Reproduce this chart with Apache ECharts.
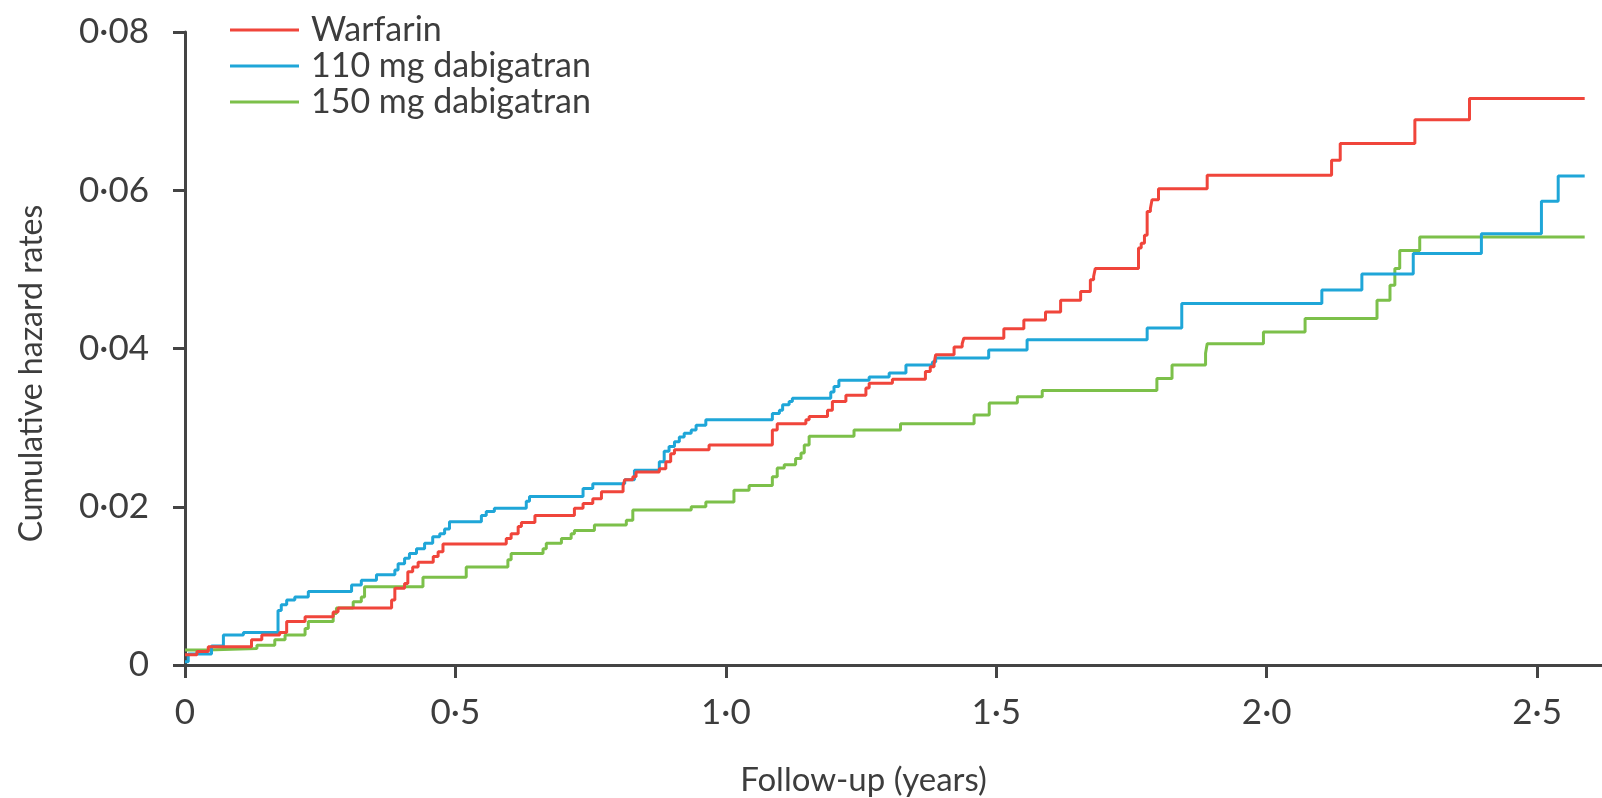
<!DOCTYPE html>
<html>
<head>
<meta charset="utf-8">
<script src="https://cdn.jsdelivr.net/npm/echarts@6/dist/echarts.min.js"></script>
<style>
  html, body { margin: 0; padding: 0; background: #fff; }
  #chart { width: 1602px; height: 798px; }
</style>
</head>
<body>
<div id="chart"></div>
<script>
// cumulative hazard step points: [follow-up years, cumulative hazard]
const seriesNames = ['Warfarin', '110 mg dabigatran', '150 mg dabigatran'];
const seriesColors = ['#f0453b', '#1fa6d8', '#7cc04a'];

const warfarin = [
  [0, 0.0013], [0.022, 0.0017], [0.043, 0.0023], [0.123, 0.0032], [0.142, 0.0038],
  [0.175, 0.0041], [0.188, 0.0055], [0.222, 0.0061], [0.274, 0.0067], [0.283, 0.0072],
  [0.382, 0.0082], [0.388, 0.0097], [0.406, 0.0103], [0.412, 0.0118], [0.421, 0.0124],
  [0.431, 0.0130], [0.459, 0.0137], [0.468, 0.0143], [0.477, 0.0153], [0.594, 0.0160],
  [0.603, 0.0166], [0.616, 0.0175], [0.622, 0.0180], [0.647, 0.0189], [0.720, 0.0198],
  [0.736, 0.0204], [0.754, 0.0210], [0.770, 0.0219], [0.810, 0.0227], [0.813, 0.0234],
  [0.828, 0.0238], [0.834, 0.0244], [0.877, 0.0248], [0.889, 0.0257], [0.898, 0.0267],
  [0.905, 0.0272], [0.969, 0.0278], [1.086, 0.0297], [1.095, 0.0305], [1.148, 0.0310],
  [1.154, 0.0314], [1.188, 0.0322], [1.197, 0.0333], [1.222, 0.0341], [1.259, 0.0350],
  [1.265, 0.0356], [1.308, 0.0361], [1.369, 0.0371], [1.378, 0.0377], [1.385, 0.0381],
  [1.388, 0.0392], [1.422, 0.0402], [1.437, 0.0406], [1.440, 0.0413], [1.514, 0.0425],
  [1.551, 0.0436], [1.591, 0.0446], [1.619, 0.0461], [1.656, 0.0472], [1.674, 0.0487],
  [1.680, 0.0491], [1.683, 0.0501], [1.763, 0.0527], [1.768, 0.0533], [1.774, 0.0543],
  [1.779, 0.0573], [1.785, 0.0577], [1.788, 0.0588], [1.800, 0.0602], [1.890, 0.0619],
  [2.120, 0.0638], [2.136, 0.0659], [2.274, 0.0689], [2.375, 0.0716], [2.588, 0.0716]
];

const dabigatran110 = [
  [0, 0.0004], [0.006, 0.0014], [0.049, 0.0024], [0.071, 0.0038], [0.108, 0.0041],
  [0.172, 0.0069], [0.178, 0.0076], [0.188, 0.0082], [0.203, 0.0086], [0.228, 0.0093],
  [0.308, 0.0101], [0.326, 0.0107], [0.354, 0.0114], [0.388, 0.0120], [0.394, 0.0128],
  [0.406, 0.0135], [0.415, 0.0141], [0.428, 0.0147], [0.443, 0.0154], [0.458, 0.0162],
  [0.471, 0.0166], [0.480, 0.0172], [0.489, 0.0181], [0.548, 0.0189], [0.557, 0.0194],
  [0.572, 0.0198], [0.631, 0.0207], [0.637, 0.0213], [0.736, 0.0223], [0.754, 0.0229],
  [0.813, 0.0234], [0.831, 0.0246], [0.877, 0.0257], [0.886, 0.0270], [0.895, 0.0276],
  [0.905, 0.0282], [0.914, 0.0288], [0.923, 0.0293], [0.936, 0.0297], [0.945, 0.0303],
  [0.963, 0.0310], [1.086, 0.0318], [1.099, 0.0322], [1.105, 0.0329], [1.117, 0.0333],
  [1.123, 0.0337], [1.194, 0.0345], [1.200, 0.0352], [1.209, 0.0360], [1.265, 0.0364],
  [1.302, 0.0369], [1.333, 0.0379], [1.382, 0.0383], [1.388, 0.0388], [1.486, 0.0398],
  [1.557, 0.0411], [1.779, 0.0426], [1.843, 0.0457], [2.102, 0.0474], [2.176, 0.0494],
  [2.271, 0.0520], [2.397, 0.0545], [2.508, 0.0586], [2.539, 0.0618], [2.588, 0.0618]
];

const dabigatran150 = [
  [0, 0.0019], [0.040, 0.0021], [0.133, 0.0025], [0.166, 0.0032], [0.185, 0.0038],
  [0.222, 0.0046], [0.228, 0.0055], [0.274, 0.0065], [0.280, 0.0072], [0.311, 0.0080],
  [0.326, 0.0086], [0.332, 0.0099], [0.440, 0.0111], [0.520, 0.0124], [0.597, 0.0133],
  [0.603, 0.0141], [0.662, 0.0147], [0.668, 0.0154], [0.696, 0.0160], [0.714, 0.0166],
  [0.720, 0.0170], [0.757, 0.0177], [0.816, 0.0183], [0.828, 0.0196], [0.936, 0.0200],
  [0.963, 0.0206], [1.015, 0.0221], [1.043, 0.0227], [1.086, 0.0238], [1.095, 0.0249],
  [1.108, 0.0253], [1.129, 0.0261], [1.139, 0.0268], [1.145, 0.0278], [1.154, 0.0289],
  [1.237, 0.0297], [1.323, 0.0305], [1.459, 0.0316], [1.487, 0.0331], [1.539, 0.0339],
  [1.585, 0.0347], [1.797, 0.0362], [1.825, 0.0379], [1.887, 0.0394], [1.890, 0.0406],
  [1.994, 0.0421], [2.071, 0.0438], [2.204, 0.0461], [2.228, 0.0480], [2.237, 0.0501],
  [2.246, 0.0524], [2.283, 0.0541], [2.588, 0.0541]
];

const xTicks = [0, 0.5, 1.0, 1.5, 2.0, 2.5];

const textColor = '#3d3d3d';
const axisColor = '#444';
const fontFamily = 'Lato, "Open Sans", sans-serif';

// "0·08" style labels
function fmt(v, digits) {
  if (Math.abs(v) < 1e-9) return '0';
  return v.toFixed(digits).replace('.', '\u00b7');
}

const chart = echarts.init(document.getElementById('chart'));

const allData = [warfarin, dabigatran110, dabigatran150];

chart.setOption({
  animation: false,
  textStyle: { fontFamily: fontFamily, color: textColor },
  grid: { left: 185, right: 0, top: 32, bottom: 133, outerBoundsMode: 'none' },
  legend: {
    data: seriesNames.map(n => ({ name: n, icon: 'rect' })),
    orient: 'vertical',
    left: 225,
    top: 7,
    itemWidth: 69,
    itemHeight: 3,
    itemGap: 0,
    textStyle: { fontSize: 34, color: textColor, fontFamily: fontFamily, lineHeight: 36, padding: [0, 0, 0, 7] }
  },
  xAxis: {
    type: 'value',
    min: 0,
    max: 2.62,
    interval: 0.5,
    name: 'Follow-up (years)',
    nameLocation: 'middle',
    nameGap: 99,
    nameTextStyle: { fontSize: 33, color: textColor, padding: [0, 60, 0, 0] },
    splitLine: { show: false },
    axisLine: { onZero: false, lineStyle: { color: axisColor, width: 3 } },
    axisTick: { length: 13, lineStyle: { color: axisColor, width: 3 }, customValues: xTicks },
    axisLabel: { fontSize: 35, color: textColor, margin: 30, customValues: xTicks, formatter: v => fmt(v, 1) }
  },
  yAxis: {
    type: 'value',
    min: 0,
    max: 0.08,
    interval: 0.02,
    name: 'Cumulative hazard rates',
    nameLocation: 'middle',
    nameGap: 137,
    nameTextStyle: { fontSize: 32, color: textColor, padding: [0, 50, 0, 0] },
    splitLine: { show: false },
    axisLine: { show: true, lineStyle: { color: axisColor, width: 3 } },
    axisTick: { show: true, length: 12, lineStyle: { color: axisColor, width: 3 } },
    axisLabel: { fontSize: 35, color: textColor, margin: 36, formatter: v => fmt(v, 2) }
  },
  series: seriesNames.map((name, i) => ({
    name: name,
    type: 'line',
    step: 'end',
    symbol: 'none',
    data: allData[i],
    lineStyle: { color: seriesColors[i], width: 3 },
    itemStyle: { color: seriesColors[i] },
    z: 3 - i
  }))
});
</script>
</body>
</html>
